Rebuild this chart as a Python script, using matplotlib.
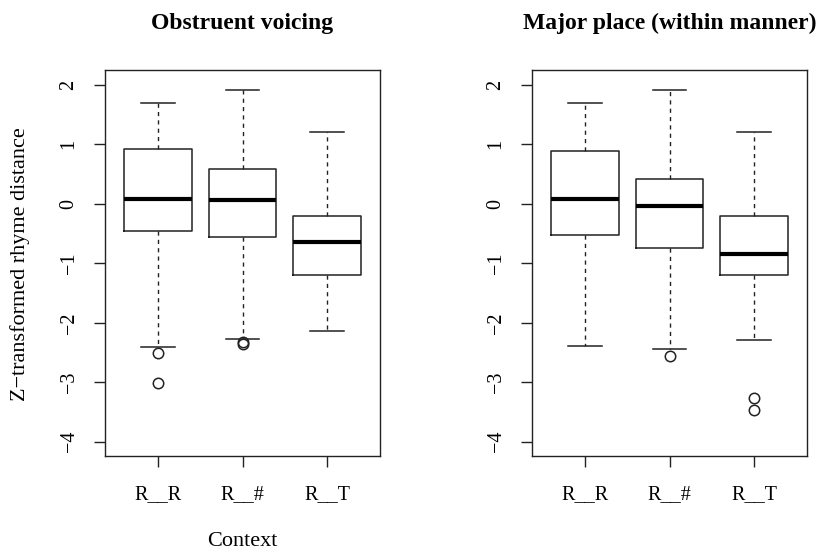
import matplotlib.pyplot as plt

plt.rcParams['font.family'] = ['Liberation Serif', 'DejaVu Serif']
plt.rcParams['axes.unicode_minus'] = True

contexts = ['R__R', 'R__#', 'R__T']
titles = ['Obstruent voicing', 'Major place (within manner)']

# five-number summaries: lower whisker, Q1, median, Q3, upper whisker
voicing_whislo = [-2.40, -2.28, -2.14]
voicing_q1 = [-0.45, -0.56, -1.20]
voicing_med = [0.08, 0.07, -0.64]
voicing_q3 = [0.92, 0.59, -0.20]
voicing_whishi = [1.69, 1.92, 1.21]
voicing_fliers = [[-2.51, -3.01], [-2.32, -2.35], []]

place_whislo = [-2.39, -2.44, -2.29]
place_q1 = [-0.53, -0.74, -1.20]
place_med = [0.08, -0.04, -0.84]
place_q3 = [0.89, 0.42, -0.20]
place_whishi = [1.69, 1.92, 1.21]
place_fliers = [[], [-2.56], [-3.26, -3.47]]

yticks = [-4, -3, -2, -1, 0, 1, 2]


def make_stats(lo, q1, med, q3, hi, fl):
    return [dict(label=c, whislo=lo[i], q1=q1[i], med=med[i], q3=q3[i],
                 whishi=hi[i], fliers=fl[i]) for i, c in enumerate(contexts)]


panels = [
    make_stats(voicing_whislo, voicing_q1, voicing_med, voicing_q3, voicing_whishi, voicing_fliers),
    make_stats(place_whislo, place_q1, place_med, place_q3, place_whishi, place_fliers),
]

fig = plt.figure(figsize=(8.25, 5.52), dpi=100)
W, H = 825, 552
lefts = [105, 532]
axes = []
for left in lefts:
    axes.append(fig.add_axes([left / W, (H - 456) / H, 275 / W, 386 / H]))

lc = '#222222'
for ax, stats, title, left in zip(axes, panels, titles, lefts):
    ax.bxp(stats, positions=[1, 2, 3], widths=0.8,
           boxprops=dict(color=lc, linewidth=1.1),
           medianprops=dict(color='black', linewidth=3.0, solid_capstyle='butt'),
           whiskerprops=dict(color=lc, linewidth=1.0, linestyle=(0, (3, 3))),
           capprops=dict(color=lc, linewidth=1.1),
           capwidths=0.4,
           flierprops=dict(marker='o', markerfacecolor='none', markeredgecolor=lc,
                           markersize=7.5, markeredgewidth=1.1))
    ax.set_xlim(0.38, 3.62)
    ax.set_ylim(-4.24, 2.25)
    ax.set_yticks(yticks)
    ax.set_yticklabels([str(t).replace('-', '\u2212') for t in yticks],
                       rotation=90, va='center')
    ax.set_xticks([1, 2, 3])
    ax.set_xticklabels(contexts)
    ax.tick_params(direction='out', length=8, width=1.0, color=lc, labelsize=14.5)
    ax.tick_params(axis='y', pad=11)
    ax.tick_params(axis='x', pad=13)
    for sp in ax.spines.values():
        sp.set_color(lc)
        sp.set_linewidth(1.0)
    fig.text((left + 137.5) / W, 1 - 29 / H, title, ha='center', va='baseline',
             fontsize=17, fontweight='bold')

fig.text(20 / W, 1 - 264 / H, 'Z\u2212transformed rhyme distance', rotation=90,
         ha='center', va='center', fontsize=16)
fig.text(242 / W, 1 - 541 / H, 'Context', ha='center', va='center', fontsize=16)

fig.savefig('out.png', dpi=100)
